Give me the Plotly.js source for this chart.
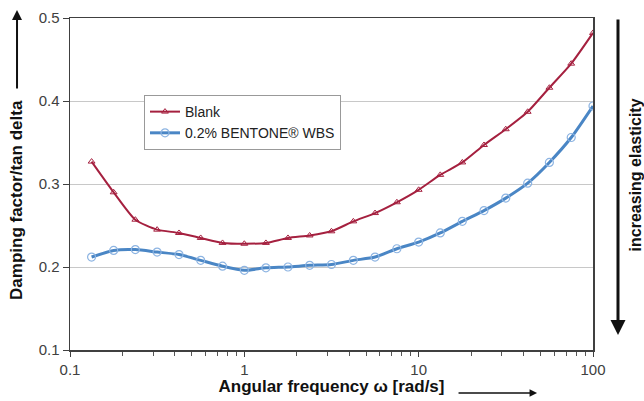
<!DOCTYPE html>
<html>
<head>
<meta charset="utf-8">
<script src="https://cdn.plot.ly/plotly-3.0.1.min.js"></script>
<style>html,body{margin:0;padding:0;background:#fff;}#chart{width:644px;height:401px;}</style>
</head>
<body>
<div id="chart"></div>
<script>
const frequency = [0.133, 0.178, 0.237, 0.316, 0.422, 0.562, 0.75, 1, 1.33, 1.78, 2.37, 3.16, 4.22, 5.62, 7.5, 10, 13.3, 17.8, 23.7, 31.6, 42.2, 56.2, 75, 100];
const blank = [0.327, 0.290, 0.257, 0.245, 0.241, 0.235, 0.229, 0.228, 0.229, 0.235, 0.238, 0.243, 0.255, 0.265, 0.278, 0.293, 0.311, 0.326, 0.347, 0.366, 0.387, 0.416, 0.445, 0.482];
const bentone = [0.212, 0.220, 0.221, 0.218, 0.215, 0.208, 0.201, 0.196, 0.199, 0.200, 0.202, 0.203, 0.208, 0.212, 0.222, 0.230, 0.241, 0.255, 0.268, 0.283, 0.301, 0.326, 0.356, 0.394];
const seriesNames = ['Blank', '0.2% BENTONE® WBS'];
const xTickVals = [0.1, 1, 10, 100];
const xTickText = ['0.1', '1', '10', '100'];
const xMinorVals = [0.2,0.3,0.4,0.5,0.6,0.7,0.8,0.9,2,3,4,5,6,7,8,9,20,30,40,50,60,70,80,90];
const yTickVals = [0.1, 0.2, 0.3, 0.4, 0.5];

const traces = [
  {
    x: frequency, y: blank, name: seriesNames[0], type: 'scatter', mode: 'lines+markers',
    line: {color: '#A5203F', width: 2, shape: 'spline', smoothing: 0.6},
    marker: {symbol: 'triangle-up-open', size: 6, color: '#A5203F', line: {width: 1}}
  },
  {
    x: frequency, y: bentone, name: seriesNames[1], type: 'scatter', mode: 'lines+markers',
    line: {color: '#4A86C5', width: 3, shape: 'spline', smoothing: 0.6},
    marker: {symbol: 'circle-open', size: 8, color: '#8DB4E2', line: {width: 1.2}}
  }
];

const layout = {
  width: 644, height: 401,
  margin: {l: 70, r: 51, t: 18, b: 51},
  paper_bgcolor: '#fff', plot_bgcolor: '#fff',
  font: {family: 'Liberation Sans, Arial, sans-serif', size: 15, color: '#404040'},
  showlegend: true,
  legend: {
    x: 0.1415, y: 0.768, xanchor: 'left', yanchor: 'top',
    bgcolor: '#fff', bordercolor: '#999', borderwidth: 1,
    font: {size: 14, color: '#222'}, tracegroupgap: 0, itemwidth: 30
  },
  xaxis: {
    type: 'log', range: [-1, 2],
    tickmode: 'array', tickvals: xTickVals, ticktext: xTickText,
    ticks: 'outside', ticklen: 5, tickcolor: '#404040',
    showgrid: false, zeroline: false,
    showline: true, linecolor: '#404040', linewidth: 1.5, mirror: true,
    minor: {tickmode: 'array', tickvals: xMinorVals, ticks: 'outside', ticklen: 4, tickcolor: '#555', showgrid: false},
    title: {text: '<b>Angular frequency ω [rad/s]</b>', font: {size: 17, color: '#111'}, standoff: 3}
  },
  yaxis: {
    range: [0.1, 0.5], tickmode: 'array', tickvals: yTickVals, ticktext: yTickVals.map(v => v.toFixed(1)),
    ticks: 'outside', ticklen: 6, tickcolor: '#404040',
    showgrid: true, gridcolor: '#C8C8C8', gridwidth: 1, zeroline: false,
    showline: true, linecolor: '#404040', linewidth: 1.5, mirror: true
  },
  annotations: [
    {xref: 'paper', yref: 'paper', x: -0.1013, y: 0.452, xanchor: 'center', yanchor: 'middle',
     text: '<b>Damping factor/tan delta</b>', textangle: -90, showarrow: false,
     font: {size: 17, color: '#111'}},
    {xref: 'paper', yref: 'paper', x: -0.1013, y: 1.024, ax: 0, ay: 80, axref: 'pixel', ayref: 'pixel',
     text: '', showarrow: true, arrowhead: 2, arrowsize: 1, arrowwidth: 2, arrowcolor: '#111'},
    {xref: 'paper', yref: 'paper', x: 0.893, y: -0.1295, ax: -80, ay: 0,
     text: '', showarrow: true, arrowhead: 2, arrowsize: 1, arrowwidth: 1.5, arrowcolor: '#111'},
    {xref: 'paper', yref: 'paper', x: 1.0478, y: 0.045, ax: 0, ay: -317,
     text: '', showarrow: true, arrowhead: 2, arrowsize: 1, arrowwidth: 3, arrowcolor: '#111'},
    {xref: 'paper', yref: 'paper', x: 1.081, y: 0.527, xanchor: 'center', yanchor: 'middle',
     text: '<b>increasing elasticity</b>', textangle: -90, showarrow: false,
     font: {size: 16, color: '#111'}}
  ]
};

Plotly.newPlot('chart', traces, layout, {displayModeBar: false, staticPlot: true});
</script>
</body>
</html>
